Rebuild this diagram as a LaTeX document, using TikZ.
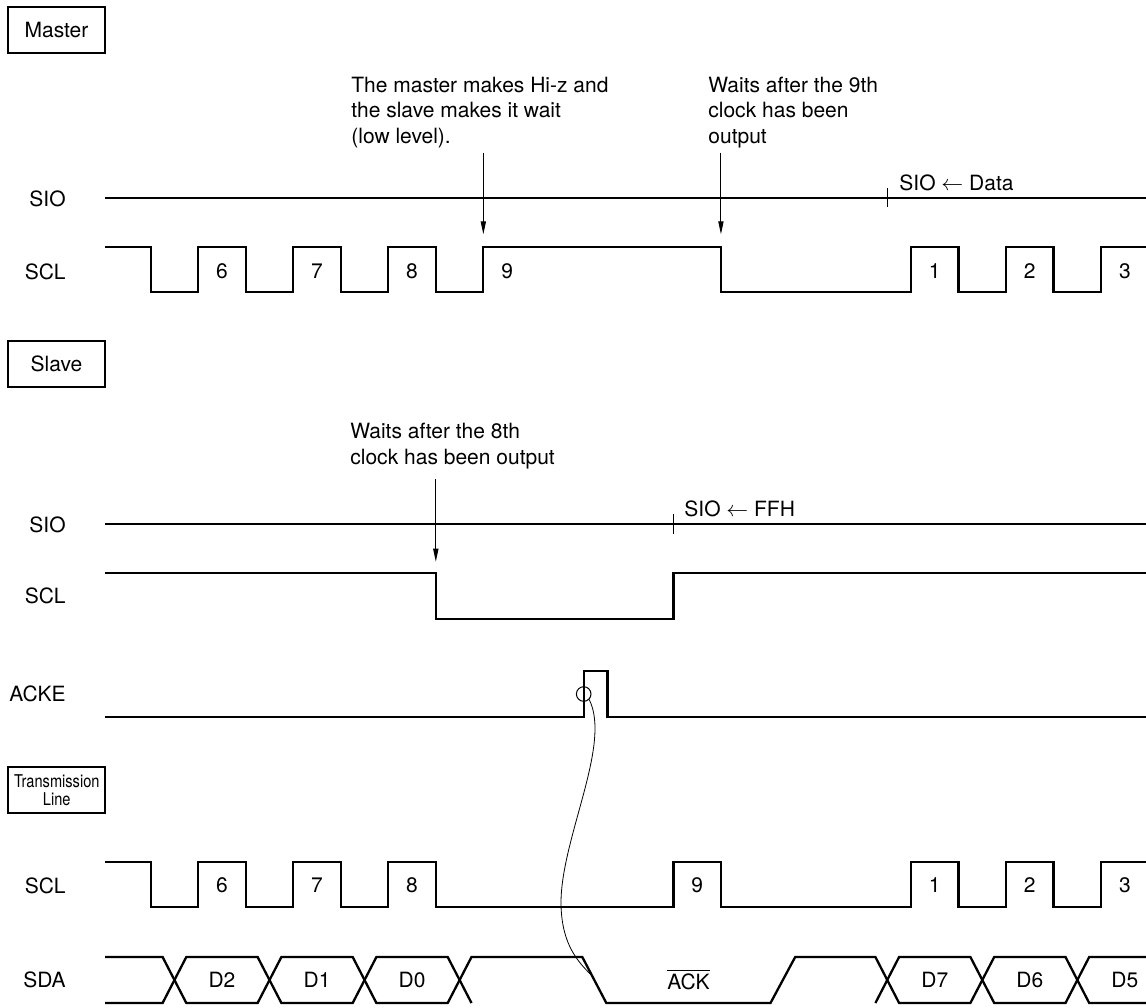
\documentclass[tikz,border=0pt]{standalone}
\usepackage{fontspec}
\setmainfont{TeX Gyre Heros}
\newfontfamily\narrowfont[FakeStretch=0.83]{TeX Gyre Heros}
\usetikzlibrary{arrows.meta}

\tikzset{
  sig/.style={line width=1.15pt},
  namebox/.style={draw,line width=1.1pt,minimum width=48.5pt,minimum height=23pt,inner sep=0pt},
  siglbl/.style={anchor=east,inner sep=0pt},
  note/.style={align=left,anchor=base west,inner sep=0pt},
  ptr/.style={line width=0.5pt,-{Triangle[length=6.5pt,width=2.6pt]}},
  hair/.style={line width=0.5pt}
}

\begin{document}
\begin{tikzpicture}[x=0.5pt,y=-0.5pt,font=\fontsize{10.5}{12.75}\selectfont,
  declare function={t0=150.7; hp=47.52; tk(\k)=t0+\k*hp;}]
\useasboundingbox (0,0) rectangle (1146,1007);
% master side
\node[namebox] (master) at (56.5,30) {Master};
\node[siglbl] (msio) at (66,199) {SIO};
\node[siglbl] (mscl) at (66,271.5) {SCL};
\draw[sig] (105,197.7) -- (1146,197.7);
\draw[sig] (105,246.7) foreach \k [count=\i] in {0,1,2,3,4,5,6,7,12,16,17,18,19,20}
  { -| ({tk(\k)},{isodd(\i)?292.3:246.7}) } -- (1146,246.7);
\foreach \k/\n in {1/6,3/7,5/8,7/9,16/1,18/2,20/3}
  \node (mpulse\n) at ({tk(\k)+hp/2},271.5) {\n};
% notes sit on the baseline of their last line
\node[note] (hiz) at (351,143.3) {The master makes Hi-z and\\the slave makes it wait\\(low level).};
\node[note] (wait9) at (708,143.3) {Waits after the 9th\\clock has been\\output};
\coordinate (hizto) at ({tk(7)},234.3);
\coordinate (wait9to) at ({tk(12)},234.3);
\draw[ptr,shorten <=2.2pt] (hiz.south -| hizto) -- (hizto);
\draw[ptr,shorten <=2.2pt] (wait9.south -| wait9to) -- (wait9to);
\draw[hair] ({tk(15)+hp/2},188.3) -- ({tk(15)+hp/2},207.3);
\node[note] (siodata) at (899,190) {SIO $\leftarrow$ Data};
% slave side
\node[namebox] (slave) at (56.5,364) {Slave};
\node[siglbl] (ssio) at (66,524.5) {SIO};
\node[siglbl] (sscl) at (66,596) {SCL};
\node[siglbl] (acke) at (66,694) {ACKE};
\node[note] (wait8) at (350,464.3) {Waits after the 8th\\clock has been output};
\coordinate (wait8to) at ({tk(6)},561.7);
\draw[ptr,shorten <=5pt] (wait8.south -| wait8to) -- (wait8to);
\draw[sig] (105,524.3) -- (1146,524.3);
\draw[hair] ({tk(11)},514) -- ({tk(11)},534);
\node[note] (sioffh) at (684,516) {SIO $\leftarrow$ FFH};
\draw[sig] (105,573.3) -| ({tk(6)},619) -| ({tk(11)},573.3) -- (1146,573.3);
\draw[sig] (105,716.7) -| (583.7,670.7) -| (607.5,716.7) -- (1146,716.7);
\node[draw,circle,hair,minimum size=7.3pt,inner sep=0pt] (ackring) at (583.7,694) {};
% transmission line
\node[namebox,minimum height=23.3pt,align=center,font=\narrowfont\fontsize{8.8}{9.15}\selectfont] (tline) at (56.8,790) {Transmission\\Line};
\node[siglbl] (tscl) at (66,885.5) {SCL};
\node[siglbl] (tsda) at (66,979.5) {SDA};
\draw[sig] (105,861.7) foreach \k [count=\i] in {0,1,2,3,4,5,6,11,12,16,17,18,19,20}
  { -| ({tk(\k)},{isodd(\i)?906.7:861.7}) } -- (1146,861.7);
\foreach \k/\n in {1/6,3/7,5/8,11/9,16/1,18/2,20/3}
  \node (tpulse\n) at ({tk(\k)+hp/2},885.5) {\n};
\draw[sig] (105,957) -- (162.6,957) -- (186.3,1003) -- (257.6,1003) -- (281.4,957) -- (352.7,957)
  -- (376.4,1003) -- (447.7,1003) -- (471.5,957) -- (582.3,957) -- (606.3,1003) -- (770.5,1003)
  -- (795.2,957) -- (875.4,957) -- (899.1,1003) -- (970.4,1003) -- (994.2,957) -- (1065.5,957)
  -- (1089.2,1003) -- (1146,1003);
\draw[sig] (105,1003) -- (162.6,1003) -- (186.3,957) -- (257.6,957) -- (281.4,1003) -- (352.7,1003)
  -- (376.4,957) -- (447.7,957) -- (471.5,1003);
\draw[sig] (875.4,1003) -- (899.1,957) -- (970.4,957) -- (994.2,1003) -- (1065.5,1003)
  -- (1089.2,957) -- (1146,957);
\foreach \k/\d in {1/D2,3/D1,5/D0,16/D7,18/D6,20/D5}
  \node (sda\d) at ({tk(\k)+hp/2},979.5) {\d};
\node (ackbar) at (688.5,979.5) {$\overline{\mbox{ACK}}$};
\coordinate (sdafall) at (592.3,976);
\draw[line width=0.4pt] (ackring.-45) .. controls (612,745) and (560,840) .. (561,905)
  .. controls (562,945) and (578,962) .. (sdafall);
\end{tikzpicture}
\end{document}
